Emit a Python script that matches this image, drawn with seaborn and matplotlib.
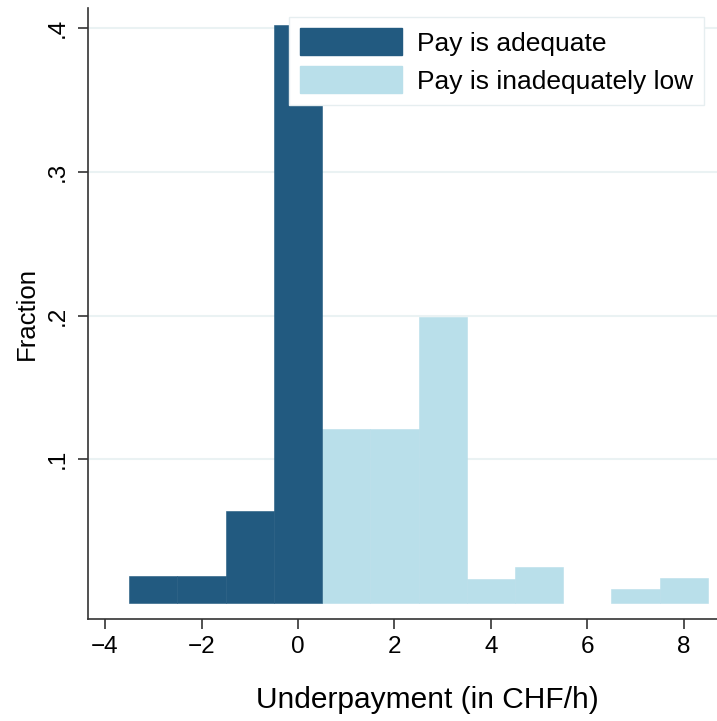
import numpy as np
import pandas as pd
import matplotlib
matplotlib.use("Agg")
import matplotlib.pyplot as plt
from matplotlib.patches import Patch
import seaborn as sns

# bin centres (CHF/h) and fraction of respondents
adequate_x = [-3, -2, -1, 0]
adequate_frac = [0.019, 0.019, 0.064, 0.402]
low_x = [1, 2, 3, 4, 5, 7, 8]
low_frac = [0.121, 0.121, 0.199, 0.017, 0.025, 0.0097, 0.0174]

groups = ["Pay is adequate", "Pay is inadequately low"]
colors = {"Pay is adequate": "#225a80", "Pay is inadequately low": "#b9dfea"}
yticks = [0.1, 0.2, 0.3, 0.4]
ytick_labels = [".1", ".2", ".3", ".4"]
xticks = [-4, -2, 0, 2, 4, 6, 8]

df = pd.DataFrame({
    "x": adequate_x + low_x,
    "frac": adequate_frac + low_frac,
    "group": [groups[0]] * len(adequate_x) + [groups[1]] * len(low_x),
})

sns.set_style("white")
plt.rcParams["font.family"] = ["Liberation Sans", "DejaVu Sans"]
plt.rcParams["text.color"] = "black"
fs = 17.5

fig = plt.figure(figsize=(7.17, 7.21), dpi=100)
ax = fig.add_axes([87.7 / 717, 1 - 619 / 721, 1 - 87.7 / 717, (619 - 8) / 721])

for y in yticks:
    ax.axhline(y, color="#eaf2f3", lw=1.5, zorder=0)

sns.histplot(data=df, x="x", weights="frac", hue="group", palette=colors,
             discrete=True, alpha=1, linewidth=0.4, legend=False, ax=ax)
for p in ax.patches:
    if p.get_height() == 0:
        p.set_visible(False)
    p.set_edgecolor(p.get_facecolor())
    p.set_zorder(2)

ax.set_xlim(-4.36, 8.69)
ax.set_ylim(-0.0111, 0.414)
ax.set_yticks(yticks)
ax.set_yticklabels(ytick_labels, rotation=90, va="center")
ax.set_xticks(xticks)
ax.set_xticklabels(["\u2212" + str(-t) if t < 0 else str(t) for t in xticks])

for s in ["top", "right"]:
    ax.spines[s].set_visible(False)
for s in ["left", "bottom"]:
    ax.spines[s].set_color("#333333")
    ax.spines[s].set_linewidth(1.2)

ax.tick_params(axis="both", direction="out", length=7, width=1.2,
               color="#333333", labelcolor="black", labelsize=fs,
               left=True, bottom=True)
ax.tick_params(axis="y", pad=7)
ax.tick_params(axis="x", pad=5)

ax.set_xlabel("Underpayment (in CHF/h)", fontsize=21.5, color="black")
ax.xaxis.set_label_coords(0.539, -0.11)
ax.set_ylabel("Fraction", fontsize=18.5, labelpad=5, color="black")

handles = [Patch(facecolor=colors[g], edgecolor=colors[g]) for g in groups]
leg = fig.legend(handles, groups, loc="upper left",
                 bbox_to_anchor=(289 / 717, 1 - 17 / 721),
                 bbox_transform=fig.transFigure, fontsize=19,
                 frameon=True, fancybox=False, framealpha=1,
                 borderaxespad=0, handlelength=3.86, handleheight=1.2,
                 handletextpad=0.57, labelspacing=0.4, borderpad=0.42)
leg.get_frame().set_edgecolor("#e6eef0")
leg.get_frame().set_linewidth(1.0)

fig.savefig("out.png", dpi=100)
